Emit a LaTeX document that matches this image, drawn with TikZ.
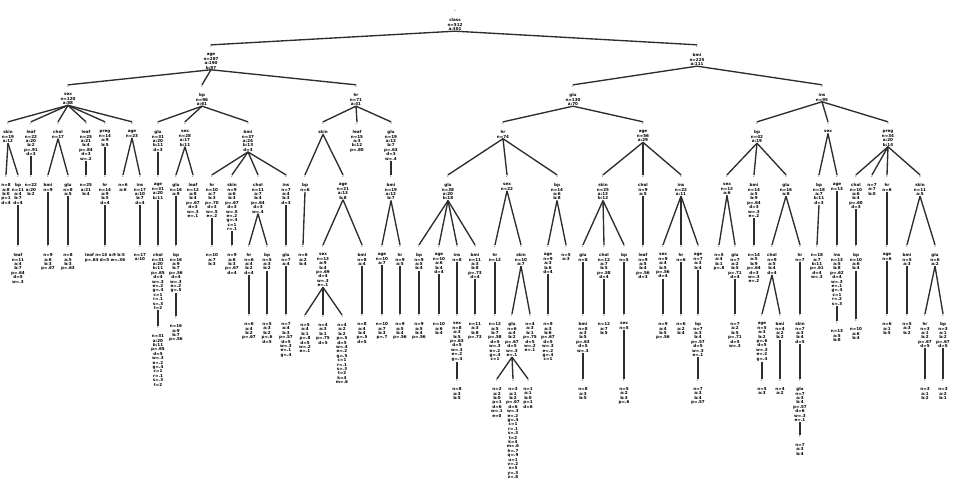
\documentclass[tikz,border=0pt]{standalone}
\usepackage{fontspec}
\usepackage{tikz}
\newfontfamily\treefont{DejaVu Sans}
\definecolor{trgrey}{RGB}{45,45,45}
\definecolor{lbgrey}{RGB}{95,95,95}
\tikzset{
  blk/.style={anchor=north,inner sep=0pt,outer sep=0.6pt,align=center,text=black,
    font=\treefont\bfseries\fontsize{4.1}{4.4}\selectfont},
  brlab/.style={anchor=base,inner sep=0pt,outer sep=0.8pt,text=lbgrey,
    font=\treefont\fontsize{3.2}{3.2}\selectfont},
  trline/.style={draw=trgrey,line width=1.35pt},
}
\newcommand{\trnode}[5]{%
  \node[brlab] (#1l) at (#2,{#3-5}) {#4};
  \node[blk] (#1) at (#2,#3) {#5};}

\begin{document}
\begin{tikzpicture}[x=1pt,y=-1pt]
\useasboundingbox (0,0) rectangle (954,486);
% top levels
\trnode{root}{455}{18}{?}{class\\n=512\\a:301}
\trnode{L}{211}{53}{1}{age\\n=287\\a:190\\b:97}
\trnode{R}{697}{53}{2}{bmi\\n=225\\a:111}
\trnode{LL}{68}{93}{1}{sex\\n=120\\a:88}
\trnode{LM}{202}{93}{2}{bp\\n=96\\a:61}
\trnode{LR}{356}{93}{3}{hr\\n=71\\a:41}
\trnode{RL}{573}{93}{1}{glu\\n=130\\a:70}
\trnode{RR}{822}{93}{2}{ins\\n=95}
% level 3
\trnode{a1}{8}{130}{1}{skin\\n=19\\a:12}
\trnode{a2}{31}{130}{2}{leaf\\n=22\\a:20\\b:2\\p=.91\\d=3}
\trnode{a3}{58}{130}{3}{chol\\n=17}
\trnode{a4}{86}{130}{4}{leaf\\n=25\\a:21\\b:4\\p=.84\\d=3\\w=.2}
\trnode{a5}{105}{130}{5}{preg\\n=14\\a:9\\b:5}
\trnode{a6}{132}{130}{6}{age\\n=23}
\trnode{b1}{158}{130}{1}{glu\\n=31\\a:20\\b:11\\d=3}
\trnode{b2}{185}{130}{2}{sex\\n=28\\a:17\\b:11}
\trnode{b3}{248}{130}{3}{bmi\\n=37\\a:24\\b:13\\d=3}
\trnode{c1}{323}{130}{1}{skin}
\trnode{c2}{357}{130}{2}{leaf\\n=15\\a:3\\b:12\\p=.80}
\trnode{c3}{391}{130}{3}{glu\\n=19\\a:12\\b:7\\p=.63\\d=3\\w=.4}
\trnode{d1}{503}{130}{1}{hr\\n=74}
\trnode{d2}{643}{130}{2}{age\\n=56\\a:29}
\trnode{e1}{757}{130}{1}{bp\\n=42\\a:19}
\trnode{e2}{828}{130}{2}{sex}
\trnode{e3}{888}{130}{3}{preg\\n=34\\a:20\\b:14}
% level 4
\trnode{a1a}{6}{183}{1}{n=8\\a:8\\b:0\\p=1\\d=4}
\trnode{a1b}{18}{183}{2}{bp\\n=11\\a:4\\b:7\\d=4}
\trnode{a2a}{31}{183}{1}{n=22\\a:20\\b:2}
\trnode{a3a}{48}{183}{1}{bmi\\n=9}
\trnode{a3b}{68}{183}{2}{glu\\n=8\\a:5}
\trnode{a4a}{86}{183}{1}{n=25\\a:21\\b:4}
\trnode{a5a}{105}{183}{1}{hr\\n=14\\a:9\\b:5\\d=4}
\trnode{a6a}{123}{183}{1}{n=6\\a:6}
\trnode{a6b}{140}{183}{2}{ins\\n=17\\a:10\\b:7\\d=4}
\trnode{b1a}{158}{183}{1}{age\\n=31\\a:20\\b:11}
\trnode{b2a}{176}{183}{1}{glu\\n=16\\a:9}
\trnode{b2b}{193}{183}{2}{leaf\\n=12\\a:8\\b:4\\p=.67\\d=3\\w=.3\\e=.1}
\trnode{b3a}{212}{183}{1}{hr\\n=10\\a:7\\b:3\\p=.70\\d=3\\w=.5\\e=.2}
\trnode{b3b}{232}{183}{2}{skin\\n=9\\a:6\\b:3\\p=.67\\d=3\\w=.5\\e=.2\\g=.4\\c=1\\r=.1}
\trnode{b3c}{258}{183}{3}{chol\\n=11\\a:7\\b:4\\p=.64\\d=3\\w=.4}
\trnode{b3d}{286}{183}{4}{ins\\n=7\\a:4\\b:3\\d=3}
\trnode{c1a}{305}{183}{1}{bp\\n=6}
\trnode{c1b}{343}{183}{2}{age\\n=21\\a:13\\b:8}
\trnode{c3a}{391}{183}{1}{bmi\\n=19\\a:12\\b:7}
\trnode{d1a}{448}{183}{1}{glu\\n=38\\a:20\\b:18}
\trnode{d1b}{507}{183}{2}{sex\\n=22}
\trnode{d1c}{557}{183}{3}{bp\\n=14\\a:6\\b:8}
\trnode{d2a}{603}{183}{1}{skin\\n=25\\a:13\\b:12}
\trnode{d2b}{643}{183}{2}{chol\\n=9\\a:5}
\trnode{d2c}{681}{183}{3}{ins\\n=22\\a:11}
\trnode{e1a}{727}{183}{1}{sex\\n=12\\a:6}
\trnode{e1b}{754}{183}{2}{bmi\\n=14\\a:5\\b:9\\p=.64\\d=3\\w=.3\\e=.2}
\trnode{e1c}{786}{183}{3}{glu\\n=16\\a:8}
\trnode{e2a}{819}{183}{1}{bp\\n=18\\a:7\\b:11\\d=3}
\trnode{e2b}{837}{183}{2}{age\\n=13}
\trnode{e3a}{856}{183}{1}{chol\\n=10\\a:6\\b:4\\p=.60\\d=3}
\trnode{e3b}{872}{183}{2}{n=7\\a:7\\b:0}
\trnode{e3c}{887}{183}{3}{hr\\n=6}
\trnode{e3d}{920}{183}{4}{skin\\n=11\\a:5}
% level 5
\trnode{a1ba}{18}{253}{1}{leaf\\n=11\\a:4\\b:7\\p=.64\\d=5\\w=.3}
\trnode{a3aa}{48}{253}{1}{n=9\\a:6\\b:3\\p=.67}
\trnode{a3ba}{68}{253}{1}{n=8\\a:5\\b:3\\p=.63}
\trnode{a5aa}{105}{253}{1}{leaf n=14 a:9 b:5\\p=.64 d=5 w=.36}
\trnode{a6ba}{140}{253}{1}{n=17\\a:10}
\trnode{b1aa}{158}{253}{1}{chol\\n=31\\a:20\\b:11\\p=.65\\d=4\\w=.3\\e=.2\\g=.4\\c=1\\r=.1\\s=.3\\t=2}
\trnode{b2aa}{176}{253}{1}{bp\\n=16\\a:9\\b:7\\p=.56\\d=4\\w=.3\\e=.2\\g=.5}
\trnode{b3aa}{212}{253}{1}{n=10\\a:7\\b:3}
\trnode{b3ba}{232}{253}{1}{n=9\\a:6\\b:3\\p=.67\\d=4}
\trnode{b3ca}{249}{253}{1}{hr\\n=6\\a:4\\b:2\\d=4}
\trnode{b3cb}{267}{253}{2}{bp\\n=5\\a:3\\b:2}
\trnode{b3da}{286}{253}{1}{glu\\n=7\\a:4}
\trnode{c1aa}{303}{253}{1}{n=6\\a:2\\b:4}
\trnode{c1ba}{323}{253}{1}{sex\\n=13\\a:9\\b:4\\p=.69\\d=4\\w=.3\\e=.1}
\trnode{c1bb}{362}{253}{2}{bmi\\n=8\\a:4}
\trnode{c3aa}{382}{253}{1}{age\\n=10\\a:7}
\trnode{c3ab}{400}{253}{2}{hr\\n=9\\a:5}
\trnode{d1aa}{419}{253}{1}{bp\\n=9\\a:5\\b:4}
\trnode{d1ab}{439}{253}{2}{age\\n=10\\a:6\\b:4\\d=4}
\trnode{d1ac}{457}{253}{3}{ins\\n=8}
\trnode{d1ad}{475}{253}{4}{bmi\\n=11\\a:3\\b:8\\p=.73\\d=4}
\trnode{d1ba}{495}{253}{1}{hr\\n=12}
\trnode{d1bb}{521}{253}{2}{skin\\n=10\\a:7}
\trnode{d1ca}{548}{253}{1}{age\\n=9\\a:3\\b:6\\d=4}
\trnode{d1cb}{566}{253}{2}{n=5\\a:3}
\trnode{d2aa}{583}{253}{1}{glu\\n=8}
\trnode{d2ab}{604}{253}{2}{chol\\n=12\\a:7\\b:5\\p=.58\\d=4}
\trnode{d2ac}{624}{253}{3}{bp\\n=5}
\trnode{d2ba}{643}{253}{1}{leaf\\n=9\\a:5\\b:4\\p=.56\\d=3}
\trnode{d2ca}{663}{253}{1}{sex\\n=9\\a:4\\b:5\\p=.56\\d=4}
\trnode{d2cb}{681}{253}{2}{hr\\n=6}
\trnode{d2cc}{698}{253}{3}{age\\n=7\\a:3\\b:4}
\trnode{e1aa}{719}{253}{1}{n=5\\a:4\\b:1\\p=.8}
\trnode{e1ab}{735}{253}{2}{glu\\n=7\\a:2\\b:5\\p=.71\\d=4}
\trnode{e1ba}{754}{253}{1}{n=14\\a:5\\b:9\\p=.64\\d=3\\w=.3\\e=.2}
\trnode{e1ca}{772}{253}{1}{chol\\n=9\\a:5\\b:4\\d=4}
\trnode{e1cb}{800}{253}{2}{hr\\n=7}
\trnode{e2aa}{817}{253}{1}{n=18\\a:7\\b:11\\p=.61\\d=4\\w=.3}
\trnode{e2ba}{837}{253}{1}{ins\\n=13\\a:5\\b:8\\p=.62\\d=4\\w=.3\\e=.1\\g=.4\\c=1\\r=.2\\s=.3}
\trnode{e3aa}{856}{253}{1}{bp\\n=10\\a:6\\b:4}
\trnode{e3ca}{887}{253}{1}{age\\n=6}
\trnode{e3da}{907}{253}{1}{bmi\\n=5\\a:3}
\trnode{e3db}{935}{253}{2}{glu\\n=6\\a:2}
% level 6
\trnode{b1aaa}{158}{334}{1}{n=31\\a:20\\b:11\\p=.65\\d=5\\w=.3\\e=.2\\g=.4\\c=1\\r=.1\\s=.3\\t=2}
\trnode{b2aaa}{176}{324}{1}{n=16\\a:9\\b:7\\p=.56}
\trnode{b3caa}{249}{322}{1}{n=6\\a:4\\b:2\\p=.67}
\trnode{b3cba}{267}{322}{1}{n=5\\a:3\\b:2\\p=.6\\d=5}
\trnode{b3daa}{286}{322}{1}{n=7\\a:4\\b:3\\p=.57\\d=5\\w=.3\\e=.1\\g=.4}
\trnode{c1baa}{305}{323}{1}{n=5\\a:4\\b:1\\p=.8\\d=5\\w=.2\\e=.1}
\trnode{c1bab}{323}{323}{2}{n=4\\a:3\\b:1\\p=.75\\d=5}
\trnode{c1bac}{342}{323}{3}{n=4\\a:2\\b:2\\p=.5\\d=5\\w=.4\\e=.2\\g=.5\\c=1\\r=.1\\s=.3\\t=2\\k=4\\m=.6}
\trnode{c1bba}{362}{322}{1}{n=8\\a:4\\b:4\\p=.5\\d=5}
\trnode{c3aaa}{382}{322}{1}{n=10\\a:7\\b:3\\p=.7}
\trnode{c3aba}{400}{322}{1}{n=9\\a:5\\b:4\\p=.56}
\trnode{d1aaa}{419}{322}{1}{n=9\\a:5\\b:4\\p=.56}
\trnode{d1aba}{439}{322}{1}{n=10\\a:6\\b:4}
\trnode{d1aca}{457}{322}{1}{sex\\n=8\\a:3\\b:5\\p=.63\\d=5\\w=.3\\e=.2\\g=.4}
\trnode{d1ada}{475}{322}{1}{n=11\\a:3\\b:8\\p=.73}
\trnode{d1baa}{495}{322}{1}{n=12\\a:5\\b:7\\p=.58\\d=5\\w=.3\\e=.2\\g=.4\\c=1}
\trnode{d1bba}{512}{322}{1}{glu\\n=6\\a:4\\b:2\\p=.67\\d=5\\w=.3\\e=.1}
\trnode{d1bbb}{530}{322}{2}{n=4\\a:3\\b:1\\p=.75\\d=5\\w=.2\\e=.1}
\trnode{d1caa}{548}{322}{1}{n=9\\a:3\\b:6\\p=.67\\d=5\\w=.3\\e=.2\\g=.4\\c=1}
\trnode{d2aaa}{583}{322}{1}{bmi\\n=8\\a:3\\b:5\\p=.63\\d=5\\w=.3}
\trnode{d2aba}{604}{322}{1}{n=12\\a:7\\b:5}
\trnode{d2aca}{624}{322}{1}{sex\\n=5}
\trnode{d2caa}{663}{322}{1}{n=9\\a:4\\b:5\\p=.56}
\trnode{d2cba}{681}{322}{1}{n=6\\a:2\\b:4}
\trnode{d2cca}{698}{322}{1}{bp\\n=7\\a:3\\b:4\\p=.57\\d=5\\w=.3\\e=.1}
\trnode{e1aba}{735}{322}{1}{n=7\\a:2\\b:5\\p=.71\\d=5\\w=.3}
\trnode{e1caa}{762}{322}{1}{age\\n=5\\a:3\\b:2\\p=.6\\d=5\\w=.3\\e=.2\\g=.4}
\trnode{e1cab}{780}{322}{2}{bmi\\n=4\\a:2\\b:2}
\trnode{e1cba}{800}{322}{1}{skin\\n=7\\a:3\\b:4\\d=5}
\trnode{e2baa}{837}{329}{1}{n=13\\a:5\\b:8}
\trnode{e3aaa}{856}{327}{1}{n=10\\a:6\\b:4}
\trnode{e3caa}{887}{322}{1}{n=6\\a:1\\b:5}
\trnode{e3daa}{907}{322}{1}{n=5\\a:3\\b:2}
\trnode{e3dba}{925}{322}{1}{hr\\n=3\\a:1\\b:2\\p=.67\\d=5}
\trnode{e3dbb}{943}{322}{2}{bp\\n=3\\a:1\\b:2\\p=.67\\d=5}
% level 7 and 8
\trnode{d1acaa}{457}{387}{1}{n=8\\a:3\\b:5}
\trnode{d1bbaa}{497}{387}{1}{n=2\\a:2\\b:0\\p=1\\d=6\\w=.1\\e=0}
\trnode{d1bbab}{513}{387}{2}{n=3\\a:1\\b:2\\p=.67\\d=6\\w=.3\\e=.2\\g=.4\\c=1\\r=.1\\s=.3\\t=2\\k=4\\m=.6\\h=.7\\q=.9\\u=1\\v=.2\\x=5\\y=.3\\z=.8}
\trnode{d1bbac}{528}{387}{3}{n=1\\a:1\\b:0\\p=1\\d=6}
\trnode{d2aaaa}{583}{387}{1}{n=8\\a:3\\b:5}
\trnode{d2acaa}{624}{387}{1}{n=5\\a:2\\b:3\\p=.6}
\trnode{d2ccaa}{698}{387}{1}{n=7\\a:3\\b:4\\p=.57}
\trnode{e1caaa}{762}{387}{1}{n=5\\a:3}
\trnode{e1caba}{780}{387}{1}{n=4\\a:2}
\trnode{e1cbaa}{800}{387}{1}{glu\\n=7\\a:3\\b:4\\p=.57\\d=6\\w=.3\\e=.1}
\trnode{e3dbaa}{925}{387}{1}{n=3\\a:1\\b:2}
\trnode{e3dbba}{943}{387}{1}{n=3\\a:2\\b:1}
\trnode{e1cbaaa}{800}{443}{1}{n=7\\a:3\\b:4}
% connectors
\foreach \pa/\ch in {root/L,root/R,L/LL,L/LM,L/LR,R/RL,R/RR,
  LL/a1,LL/a2,LL/a3,LL/a4,LL/a5,LL/a6,LM/b1,LM/b2,LM/b3,LR/c1,LR/c2,LR/c3,
  RL/d1,RL/d2,RR/e1,RR/e2,RR/e3,
  a1/a1a,a1/a1b,a2/a2a,a3/a3a,a3/a3b,a4/a4a,a5/a5a,a6/a6a,a6/a6b,
  b1/b1a,b2/b2a,b2/b2b,b3/b3a,b3/b3b,b3/b3c,b3/b3d,c1/c1a,c1/c1b,c3/c3a,
  d1/d1a,d1/d1b,d1/d1c,d2/d2a,d2/d2b,d2/d2c,
  e1/e1a,e1/e1b,e1/e1c,e2/e2a,e2/e2b,e3/e3a,e3/e3b,e3/e3c,e3/e3d,
  a1b/a1ba,a3a/a3aa,a3b/a3ba,a5a/a5aa,a6b/a6ba,b1a/b1aa,b2a/b2aa,
  b3a/b3aa,b3b/b3ba,b3c/b3ca,b3c/b3cb,b3d/b3da,c1a/c1aa,c1b/c1ba,c1b/c1bb,
  c3a/c3aa,c3a/c3ab,d1a/d1aa,d1a/d1ab,d1a/d1ac,d1a/d1ad,d1b/d1ba,d1b/d1bb,
  d1c/d1ca,d1c/d1cb,d2a/d2aa,d2a/d2ab,d2a/d2ac,d2b/d2ba,d2c/d2ca,d2c/d2cb,
  d2c/d2cc,e1a/e1aa,e1a/e1ab,e1b/e1ba,e1c/e1ca,e1c/e1cb,e2a/e2aa,e2b/e2ba,
  e3a/e3aa,e3c/e3ca,e3d/e3da,e3d/e3db,
  b1aa/b1aaa,b2aa/b2aaa,b3ca/b3caa,b3cb/b3cba,b3da/b3daa,c1ba/c1baa,
  c1ba/c1bab,c1ba/c1bac,c1bb/c1bba,c3aa/c3aaa,c3ab/c3aba,d1aa/d1aaa,
  d1ab/d1aba,d1ac/d1aca,d1ad/d1ada,d1ba/d1baa,d1bb/d1bba,d1bb/d1bbb,
  d1ca/d1caa,d2aa/d2aaa,d2ab/d2aba,d2ac/d2aca,d2ca/d2caa,d2cb/d2cba,
  d2cc/d2cca,e1ab/e1aba,e1ca/e1caa,e1ca/e1cab,e1cb/e1cba,e2ba/e2baa,
  e3aa/e3aaa,e3ca/e3caa,e3da/e3daa,e3db/e3dba,e3db/e3dbb,
  d1aca/d1acaa,d1bba/d1bbaa,d1bba/d1bbab,d1bba/d1bbac,d2aaa/d2aaaa,
  d2aca/d2acaa,d2cca/d2ccaa,e1caa/e1caaa,e1cab/e1caba,e1cba/e1cbaa,
  e3dba/e3dbaa,e3dbb/e3dbba,e1cbaa/e1cbaaa}
  \draw[trline] (\pa.south) -- (\ch l.north);
\end{tikzpicture}
\end{document}
